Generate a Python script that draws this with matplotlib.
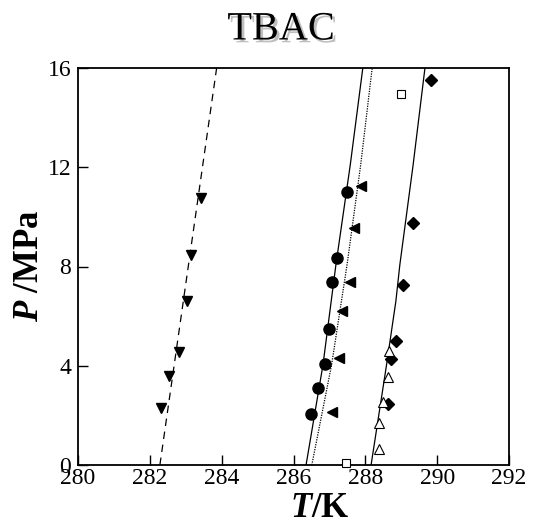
import matplotlib
matplotlib.use("Agg")
import matplotlib.pyplot as plt
import matplotlib.patheffects as pe

plt.rcParams['font.family'] = ['Liberation Serif', 'DejaVu Serif']
plt.rcParams['mathtext.fontset'] = 'custom'
plt.rcParams['mathtext.it'] = 'Liberation Serif:bold:italic'
plt.rcParams['mathtext.rm'] = 'Liberation Serif:bold'
plt.rcParams['mathtext.bf'] = 'Liberation Serif:bold'

# ---- data ----
t_vtri = [283.43, 283.14, 283.03, 282.82, 282.53, 282.30]
p_vtri = [10.78, 8.47, 6.62, 4.57, 3.59, 2.28]

t_circ = [287.50, 287.20, 287.08, 286.98, 286.89, 286.68, 286.48]
p_circ = [11.02, 8.33, 7.37, 5.47, 4.07, 3.09, 2.04]

t_ltri = [287.88, 287.68, 287.58, 287.36, 287.26, 287.07]
p_ltri = [11.25, 9.57, 7.39, 6.22, 4.33, 2.13]

t_diam = [289.82, 289.32, 289.05, 288.84, 288.72, 288.62]
p_diam = [15.52, 9.74, 7.26, 5.00, 4.26, 2.45]

t_otri = [288.66, 288.62, 288.48, 288.38, 288.37]
p_otri = [4.60, 3.56, 2.55, 1.68, 0.63]

t_osq = [288.98, 287.46]
p_osq = [14.95, 0.08]

# fitted curves
t_dash = [282.28, 283.86]
p_dash = [0.0, 16.0]

t_sol1 = [286.35, 286.82, 287.18, 287.58, 287.93]
p_sol1 = [0.0, 4.03, 8.06, 12.09, 16.0]

t_dot = [286.51, 287.06, 287.49, 287.87, 288.19]
p_dot = [0.0, 4.03, 8.06, 12.09, 16.0]

t_sol2 = [288.16, 288.59, 288.85, 288.96, 289.33, 289.66]
p_sol2 = [0.0, 4.03, 6.60, 8.06, 12.09, 16.0]

x_ticks = [280, 282, 284, 286, 288, 290, 292]
y_ticks = [0, 4, 8, 12, 16]

fig = plt.figure(figsize=(5.34, 5.25), dpi=100)
ax = fig.add_axes([78/534, 1-465/525, (509-78)/534, (465-68)/525])

lw = 0.9
ax.plot(t_dash, p_dash, color='black', lw=lw, dashes=(6, 4.5))
ax.plot(t_sol1, p_sol1, color='black', lw=lw)
ax.plot(t_dot, p_dot, color='black', lw=lw, ls=(0, (1, 1)))
ax.plot(t_sol2, p_sol2, color='black', lw=lw)

ax.plot(t_vtri, p_vtri, 'v', color='black', ms=7, ls='none')
ax.plot(t_circ, p_circ, 'o', color='black', ms=8, ls='none')
ax.plot(t_ltri, p_ltri, '<', color='black', ms=7, ls='none')
ax.plot(t_diam, p_diam, 'D', color='black', ms=6.5, ls='none')
ax.plot(t_otri, p_otri, '^', color='black', mfc='white', mew=0.8, ms=7, ls='none')
ax.plot(t_osq, p_osq, 's', color='black', mfc='white', mew=0.8, ms=5.5, ls='none',
        clip_on=False, zorder=5)

ax.set_xlim(280, 292)
ax.set_ylim(0, 16)
ax.set_xticks(x_ticks)
ax.set_yticks(y_ticks)
ax.tick_params(direction='in', length=7, width=1.0, labelsize=17,
               top=False, right=False)
ax.tick_params(axis='y', pad=5)
ax.tick_params(axis='x', pad=2)
for s in ax.spines.values():
    s.set_linewidth(1.3)

fig.text(320/534, 1-517/525, r'$T$/K', ha='center', va='baseline',
         fontsize=25, fontweight='bold')
fig.text(30/534, 1-266/525, r'$P$ /MPa', ha='center', va='center',
         rotation=90, fontsize=25, fontweight='bold')

fig.text(281/534, 1-30/525, 'TBAC', ha='center', va='center', fontsize=29,
         path_effects=[pe.SimplePatchShadow(offset=(2, -2), shadow_rgbFace='gray', alpha=0.5),
                       pe.Normal()])

fig.savefig('out.png', dpi=100)
